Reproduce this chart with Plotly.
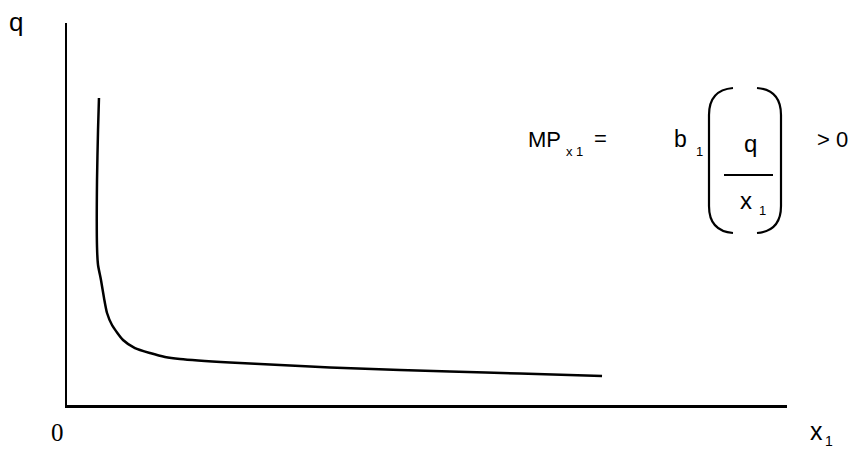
import plotly.graph_objects as go

# Curve (axis units: 0-100 on each axis)
curve_x = [4.44, 4.31, 4.17, 4.17, 4.31, 4.72, 5.14, 5.56, 6.25, 7.78, 9.44,
           11.53, 13.61, 15.69, 22.64, 29.58, 36.53, 46.25, 53.19, 62.92, 74.31]
curve_y = [80.37, 71.99, 58.90, 41.36, 36.65, 32.72, 28.01, 24.08, 20.94, 17.02, 14.92,
           13.61, 12.57, 12.04, 11.13, 10.47, 9.82, 9.16, 8.77, 8.25, 7.59]

# page body adds an 8px margin, so the figure is 8px smaller/shifted
OFF = 8
W, H = 858 - OFF, 451 - OFF
L, R, T, B = 67, 787, 23, 405   # plot area in reference pixels


def px(x):
    return (x - L) / (R - L)


def py(y):
    return (B - y) / (B - T)


def dx(x):
    return (x - L) / (R - L) * 100


def dy(y):
    return (B - y) / (B - T) * 100


fig = go.Figure()
fig.add_trace(go.Scatter(x=curve_x, y=curve_y, mode="lines",
                         line=dict(color="black", width=2.5, shape="spline", smoothing=0.6),
                         hoverinfo="skip", showlegend=False))

sans = "Liberation Sans, Arial, sans-serif"
serif = "Liberation Serif, Times New Roman, serif"


def ann(text, x, y, size, family=sans):
    fig.add_annotation(text=text, x=px(x), y=py(y), xref="paper", yref="paper",
                       showarrow=False, xanchor="center", yanchor="middle",
                       borderpad=0,
                       font=dict(family=family, size=size, color="black"))


ann("q", 16, 22, 26)
ann("0", 57, 432, 25, serif)
ann("x", 816, 431, 25)
ann("1", 829, 441, 14)
ann("MP", 544, 139, 22)
ann("x 1", 574, 151, 13)
ann("=", 600, 138, 22)
ann("b", 680, 139, 23)
ann("1", 699, 151, 13)
ann("q", 750, 143, 24)
ann("x", 746, 200, 24)
ann("1", 762, 210, 13)
ann("> 0", 832, 139, 22)

# brackets
line = dict(color="black", width=2.2)
lp = (f"M {dx(733)},{dy(88)} Q {dx(709)},{dy(90)} {dx(709)},{dy(115)} "
      f"L {dx(709)},{dy(206)} Q {dx(709)},{dy(231)} {dx(733)},{dy(233)}")
rp = (f"M {dx(757)},{dy(88)} Q {dx(781)},{dy(90)} {dx(781)},{dy(115)} "
      f"L {dx(781)},{dy(206)} Q {dx(781)},{dy(231)} {dx(757)},{dy(233)}")
fig.add_shape(type="path", path=lp, xref="x", yref="y", line=line)
fig.add_shape(type="path", path=rp, xref="x", yref="y", line=line)
fig.add_shape(type="line", x0=dx(724), x1=dx(773), y0=dy(175), y1=dy(175),
              xref="x", yref="y", line=dict(color="black", width=2))

fig.update_layout(
    width=W, height=H,
    margin=dict(l=L - OFF, r=W - (R - OFF), t=T - OFF, b=H - (B - OFF)),
    paper_bgcolor="white", plot_bgcolor="white",
    xaxis=dict(range=[0, 100], showline=True, linecolor="black", linewidth=3,
               showgrid=False, zeroline=False, showticklabels=False, ticks=""),
    yaxis=dict(range=[0, 100], showline=True, linecolor="black", linewidth=2,
               showgrid=False, zeroline=False, showticklabels=False, ticks=""),
)
fig.write_html("out.html")
